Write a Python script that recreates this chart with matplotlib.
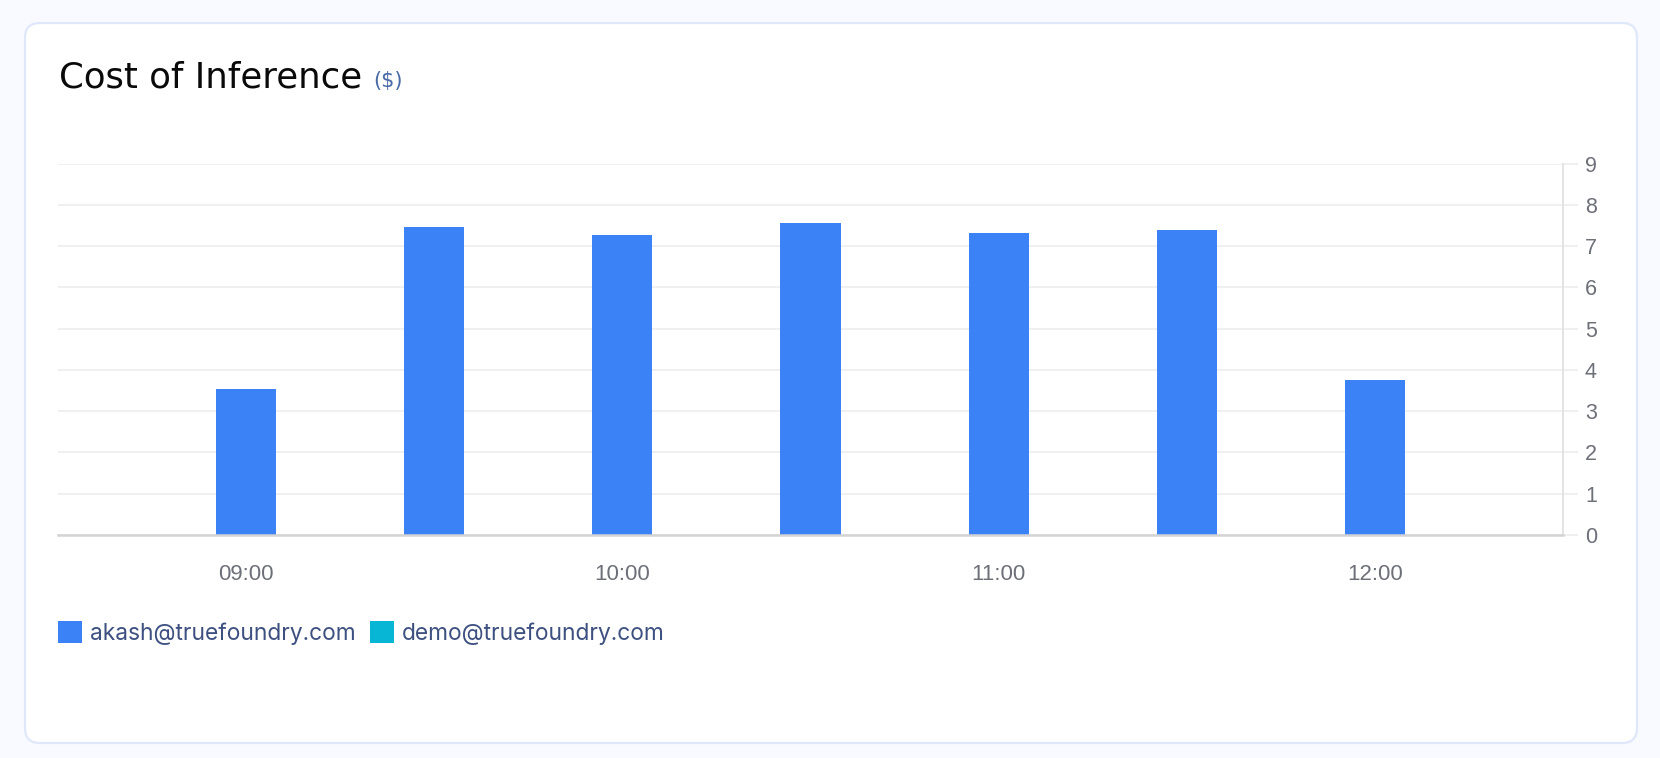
import matplotlib
matplotlib.use("Agg")
import matplotlib.pyplot as plt
from matplotlib.patches import FancyBboxPatch
import numpy as np

# ---- data ----
times = ["09:00", "09:30", "10:00", "10:30", "11:00", "11:30", "12:00"]
akash = [3.53, 7.45, 7.27, 7.55, 7.31, 7.39, 3.75]
demo = [0, 0, 0, 0, 0, 0, 0]
series_names = ["akash@truefoundry.com", "demo@truefoundry.com"]
tick_labels = ["09:00", "10:00", "11:00", "12:00"]
y_ticks = [0, 1, 2, 3, 4, 5, 6, 7, 8, 9]
title = "Cost of Inference"
unit = "($)"

W, H, DPI = 1660, 758, 100
fig = plt.figure(figsize=(W / DPI, H / DPI), dpi=DPI)
fig.patch.set_facecolor("#f8faff")

def fx(px):
    return px / W

def fy(py):
    return 1 - py / H

# card
card = FancyBboxPatch((fx(25), fy(743)), fx(1637) - fx(25), fy(23) - fy(743),
                      boxstyle="round,pad=0,rounding_size=0.009",
                      transform=fig.transFigure, facecolor="white",
                      edgecolor="#dfe8fa", linewidth=1.6, mutation_aspect=W / H,
                      zorder=-5)
fig.patches.append(card)

# title
fig.text(fx(59), fy(87.5), title, fontsize=25.6, family="DejaVu Sans",
         color="#0a0a0a", va="baseline", ha="left")
fig.text(fx(373), fy(87.5), unit, fontsize=15, family="DejaVu Sans",
         color="#4a6aa6", va="baseline", ha="left")

# axes
ax = fig.add_axes([fx(58), fy(535), fx(1563) - fx(58), fy(163.5) - fy(535)])
ax.set_zorder(2)
ax.patch.set_alpha(0)
x = np.arange(len(times))
bw = 0.32
b1 = ax.bar(x, akash, width=bw, color="#3b82f6", linewidth=0, zorder=3,
            label=series_names[0])
b2 = ax.bar(x, demo, width=bw, color="#06b6d4", linewidth=0, zorder=3,
            label=series_names[1])

ax.set_xlim(-1, 7)
ax.set_ylim(0, 9)
ax.set_yticks(y_ticks)
ax.yaxis.tick_right()
ax.set_xticks([times.index(t_) for t_ in tick_labels])
ax.set_xticklabels(tick_labels)
ax.grid(axis="y", color="#efefef", linewidth=1.3, zorder=0)
ax.set_axisbelow(True)

for s in ["top", "left"]:
    ax.spines[s].set_visible(False)
ax.spines["right"].set_color("#e2e2e2")
ax.spines["right"].set_linewidth(1.3)
ax.spines["bottom"].set_color("#d4d4d4")
ax.spines["bottom"].set_linewidth(1.8)
ax.spines["bottom"].set_zorder(4)

ax.tick_params(axis="y", which="both", length=10.8, width=1.3, color="#efefef",
               pad=5, labelsize=15.5, labelcolor="#6e7079", right=True, left=False)
ax.tick_params(axis="x", length=0, pad=21, labelsize=16, labelcolor="#6e7079")
for lab in ax.get_xticklabels() + ax.get_yticklabels():
    lab.set_family("Liberation Sans")

leg = ax.legend(handles=[b1, b2], loc="upper left",
                bbox_to_anchor=(fx(58), fy(621)), bbox_transform=fig.transFigure,
                ncol=2, frameon=False, borderpad=0, borderaxespad=0,
                handlelength=1.05, handleheight=1.1, handletextpad=0.36,
                columnspacing=0.62,
                prop={"family": "Inter", "size": 16.4})
for txt in leg.get_texts():
    txt.set_color("#3d5080")

fig.savefig("out.png", dpi=DPI, facecolor=fig.get_facecolor())
